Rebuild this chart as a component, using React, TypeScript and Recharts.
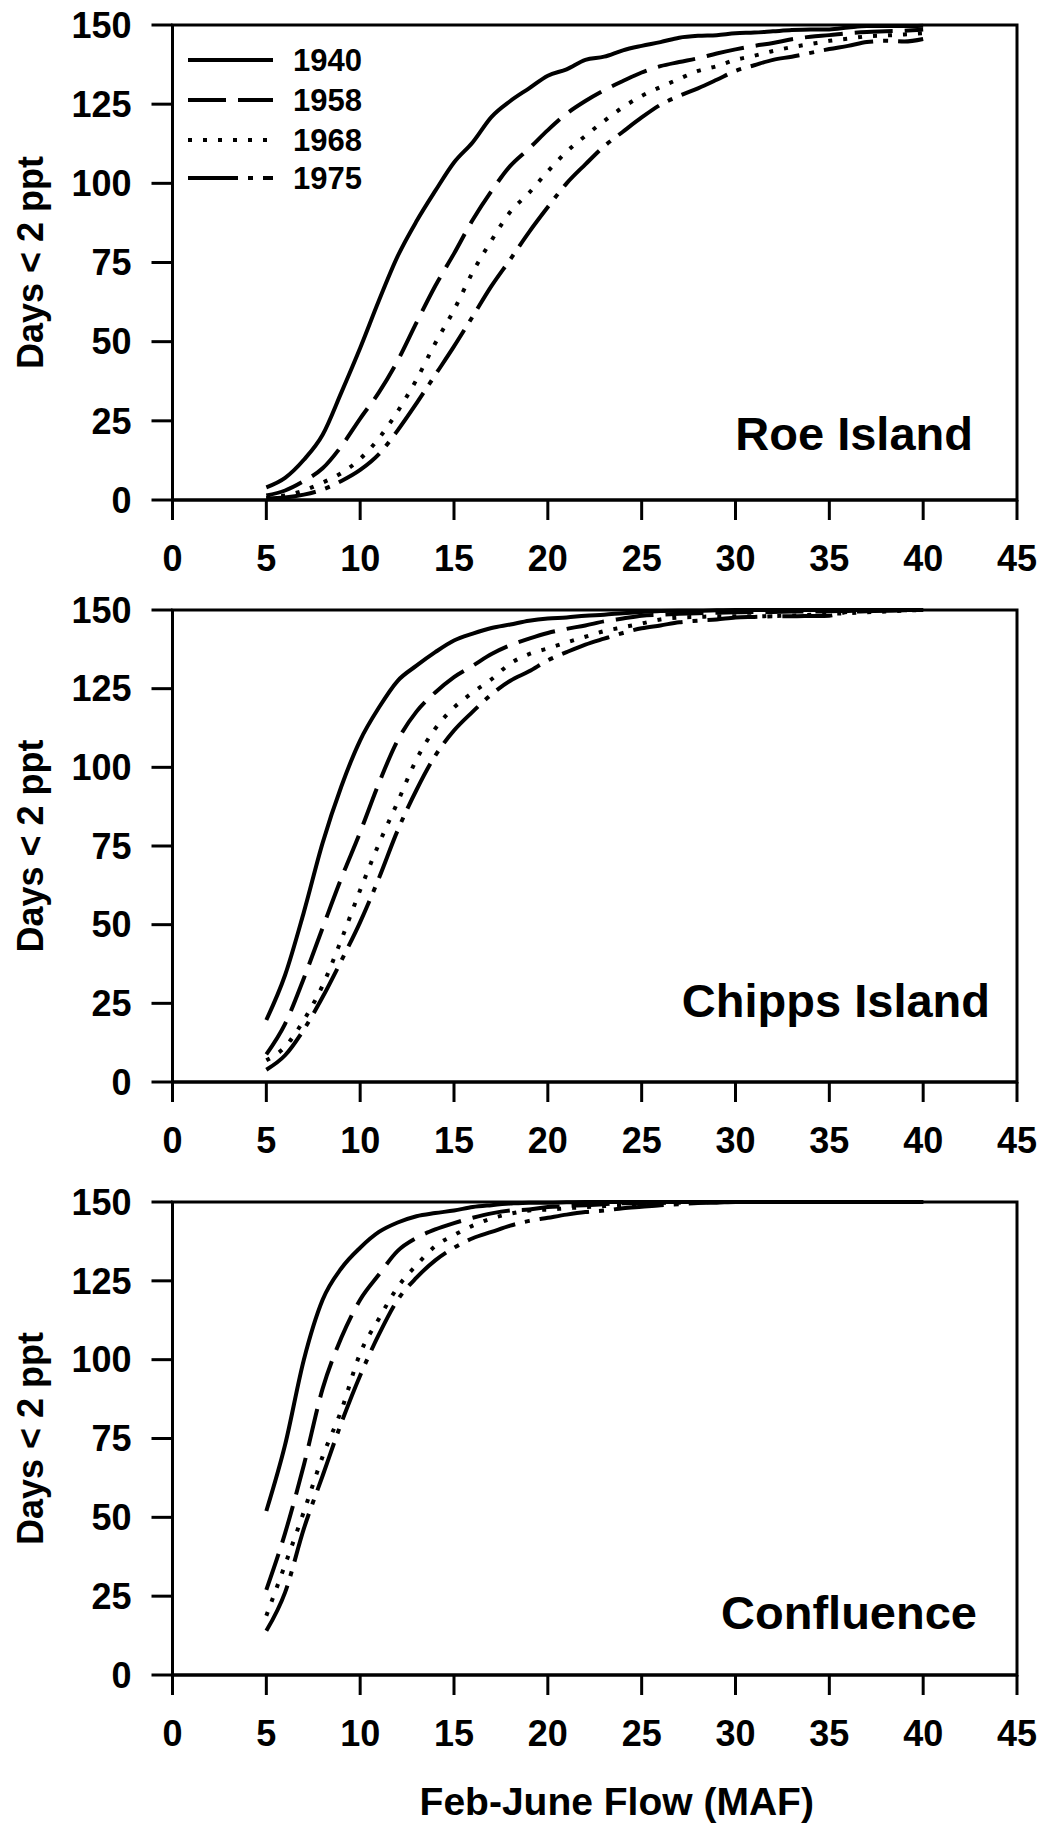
import { LineChart, Line, XAxis, YAxis, ReferenceArea, Customized } from 'recharts'

// Feb-June flow (MAF) sample points
const flow = [5, 6, 7, 8, 9, 10, 11, 12, 13, 14, 15, 16, 17, 18, 19, 20, 21, 22, 23, 24, 25, 26, 27, 28, 29, 30, 31, 32, 33, 34, 35, 36, 37, 38, 39, 40]

const xTicks = [0, 5, 10, 15, 20, 25, 30, 35, 40, 45]
const yTicks = [0, 25, 50, 75, 100, 125, 150]

// Roe Island
const roe1940 = [4, 7, 12.7, 20.6, 34, 48, 63, 77, 88, 97.6, 106.6, 113, 121, 126, 130, 134, 136, 139, 140, 142, 143.4, 144.6, 146, 146.6, 146.8, 147.4, 147.6, 148, 148.4, 148.6, 148.6, 149.2, 149.7, 149.7, 149.7, 149.8]
const roe1958 = [1.4, 3, 6, 10, 17, 25.7, 34, 44, 56, 67.6, 77.8, 88.5, 97.6, 105.5, 111, 116.8, 122, 126, 129.4, 132.3, 135, 137, 138.3, 139.5, 141, 142.3, 143.4, 144.3, 145.5, 146.3, 146.8, 147.4, 147.8, 148, 148.2, 148.6]
const roe1968 = [0.6, 1.4, 3, 5.5, 8.5, 13, 19.5, 28, 38, 49.5, 60, 72, 82, 91, 97, 103.8, 110, 115, 119.7, 124, 127.6, 130.4, 133, 135.5, 137, 139, 140.3, 141.8, 143, 144, 145, 145.7, 146.4, 146.7, 147, 147.4]
const roe1975 = [0.5, 0.8, 1.7, 3.3, 6, 9.5, 14.5, 22, 30.5, 39.5, 48.5, 58, 67.6, 76, 84.6, 92.5, 100, 106, 111.7, 116.3, 120.8, 124.8, 127.6, 130, 132.7, 135.5, 137.3, 139, 140, 141.2, 142.4, 143.4, 144.6, 145, 144.8, 145.6]

// Chipps Island
const chipps1940 = [19.7, 34, 54, 76, 94, 108.6, 119, 127.5, 132.3, 136.6, 140.3, 142.5, 144.3, 145.4, 146.6, 147.3, 147.6, 148.2, 148.5, 149, 149.4, 149.7, 149.8, 149.8, 149.9, 150, 150, 150, 150, 150, 150, 150, 150, 150, 150, 150]
const chipps1958 = [8.8, 18.5, 33, 49, 64.8, 79.4, 95, 108.6, 117.7, 123.8, 128.7, 132.3, 136, 138.8, 140.9, 142.7, 144, 145.1, 146.4, 147.3, 148.2, 148.5, 148.8, 149, 149.1, 149.3, 149.4, 149.4, 149.5, 149.5, 149.6, 149.7, 149.8, 149.9, 150, 150]
const chipps1968 = [6.9, 11.2, 19.7, 30.7, 45.3, 61, 75.7, 89, 102.5, 112.3, 119, 123.8, 128, 133, 136, 137.8, 139.7, 141.5, 143.3, 144.5, 145.7, 147, 147.6, 147.8, 148, 148, 148, 148.1, 148.2, 148.5, 148.8, 149, 149.3, 149.5, 149.8, 150]
const chipps1975 = [3.9, 8.5, 16.7, 27, 38.6, 50.8, 64.8, 80, 92.8, 103.7, 111.7, 117.7, 123.2, 127.5, 130.5, 134, 136.6, 139, 140.9, 142.7, 144.2, 145.1, 146.1, 146.6, 147, 147.6, 147.8, 148, 148, 148.1, 148.2, 149.4, 149.6, 149.8, 149.9, 150]

// Confluence
const conf1940 = [52, 73, 100, 119, 129, 135.5, 140.5, 143.5, 145.5, 146.5, 147.3, 148.4, 149, 149.5, 149.8, 149.8, 149.9, 150, 150, 150, 150, 150, 150, 150, 150, 150, 150, 150, 150, 150, 150, 150, 150, 150, 150, 150]
const conf1958 = [27, 45, 66.6, 90.8, 107, 119, 127, 134.5, 138.6, 141.3, 143.3, 145, 146.4, 147.3, 147.6, 148.4, 148.7, 149, 149.3, 149.6, 149.6, 150, 150, 150, 150, 150, 150, 150, 150, 150, 150, 150, 150, 150, 150, 150]
const conf1968 = [18.8, 35, 51.8, 69.3, 84, 102, 113, 123, 130, 136, 139.5, 142.5, 144.8, 146.3, 147.3, 147.6, 148, 148.4, 148.7, 149, 149.3, 149.7, 149.8, 149.9, 150, 150, 150, 150, 150, 150, 150, 150, 150, 150, 150, 150]
const conf1975 = [14, 26.2, 46.4, 63.2, 80, 95, 108, 119, 126, 131.5, 135.5, 138.5, 140.5, 142.5, 144, 145, 146, 146.8, 147.3, 148, 148.5, 149, 149.3, 149.7, 149.8, 150, 150, 150, 150, 150, 150, 150, 150, 150, 150, 150]

const years = ['1940', '1958', '1968', '1975']
const dashes = [undefined, '38 12', '4 11', '50 10 5 10']

const font = '"Liberation Sans", Arial, Helvetica, sans-serif'

function toRows(series: number[][]) {
  return flow.map((f, i) => {
    const row: Record<string, number> = { flow: f }
    years.forEach((y, k) => {
      row['y' + y] = series[k][i]
    })
    return row
  })
}

// legend drawn inside the plot box, top-left
function YearLegend() {
  const rowY = [60, 100, 140, 178]
  return (
    <g>
      {years.map((y, i) => (
        <g key={y}>
          <line x1={188} x2={273} y1={rowY[i]} y2={rowY[i]} stroke="#000" strokeWidth={4} strokeDasharray={dashes[i]} />
          <text x={293} y={rowY[i] + 11} fontSize={31} fontWeight={700} fontFamily={font} fill="#000">
            {y}
          </text>
        </g>
      ))}
    </g>
  )
}

interface PanelProps {
  top: number
  height: number
  rows: Record<string, number>[]
  name: string
  nameX: number
  nameY: number
  legend?: boolean
  title?: string
}

function Panel({ top, height, rows, name, nameX, nameY, legend, title }: PanelProps) {
  const tickStyle = { fill: '#000', fontSize: 36, fontWeight: 700, fontFamily: font }
  return (
    <div style={{ position: 'absolute', left: 0, top }}>
      <LineChart width={1047} height={height} data={rows} margin={{ top: 25, right: 30, bottom: 0, left: 0 }}>
        <XAxis
          dataKey="flow"
          type="number"
          domain={[0, 45]}
          ticks={xTicks}
          interval={0}
          height={title ? 150 : 90}
          tickSize={20}
          tickMargin={25}
          stroke="#000"
          strokeWidth={3}
          tick={tickStyle}
          label={
            title
              ? { value: title, position: 'insideBottom', offset: 10, dx: 22, fill: '#000', fontSize: 39, fontWeight: 700, fontFamily: font }
              : undefined
          }
        />
        <YAxis
          type="number"
          domain={[0, 150]}
          ticks={yTicks}
          interval={0}
          width={172.5}
          tickSize={21}
          tickMargin={20}
          stroke="#000"
          strokeWidth={3}
          tick={tickStyle}
          label={{
            value: 'Days < 2 ppt',
            angle: -90,
            position: 'insideLeft',
            offset: 30,
            fill: '#000',
            fontSize: 36,
            fontWeight: 700,
            fontFamily: font,
            style: { textAnchor: 'middle' },
          }}
        />
        <ReferenceArea x1={0} x2={45} y1={0} y2={150} fill="none" stroke="#000" strokeWidth={3} />
        {years.map((y, i) => (
          <Line
            key={y}
            dataKey={'y' + y}
            name={y}
            type="monotone"
            stroke="#000"
            strokeWidth={4}
            strokeDasharray={dashes[i]}
            dot={false}
            activeDot={false}
            isAnimationActive={false}
          />
        ))}
        {legend && <Customized component={() => <YearLegend />} />}
        <Customized
          component={() => (
            <text x={nameX} y={nameY} textAnchor="end" fontSize={47} fontWeight={700} fontFamily={font} fill="#000">
              {name}
            </text>
          )}
        />
      </LineChart>
    </div>
  )
}

export default function App() {
  return (
    <div style={{ position: 'absolute', left: 0, top: 0, width: 1047, height: 1825, background: '#fff' }}>
      <Panel top={0} height={590} rows={toRows([roe1940, roe1958, roe1968, roe1975])} name="Roe Island" nameX={973} nameY={450} legend />
      <Panel top={585} height={587} rows={toRows([chipps1940, chipps1958, chipps1968, chipps1975])} name="Chipps Island" nameX={990} nameY={432} />
      <Panel
        top={1177}
        height={648}
        rows={toRows([conf1940, conf1958, conf1968, conf1975])}
        name="Confluence"
        nameX={977}
        nameY={452}
        title="Feb-June Flow (MAF)"
      />
    </div>
  )
}
